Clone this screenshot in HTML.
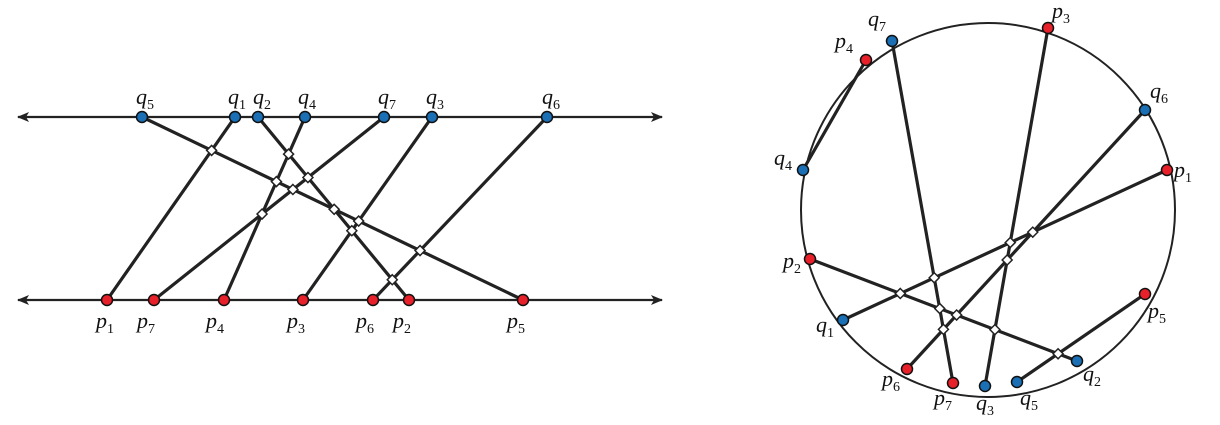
<!DOCTYPE html>
<html><head><meta charset="utf-8"><style>
html,body{margin:0;padding:0;background:#fff;}
svg text{font-family:"Liberation Serif",serif;font-style:italic;font-size:22px;fill:#111;}
svg text tspan.s{font-size:14px;font-style:normal;}
</style></head><body>
<svg id="s" width="1220" height="420" viewBox="0 0 1220 420" xmlns="http://www.w3.org/2000/svg">
<defs>
<marker id="ar" markerWidth="12" markerHeight="10" refX="11" refY="5" orient="auto" markerUnits="userSpaceOnUse">
<path d="M0,0 L12,5 L0,10 L3,5 Z" fill="#222"/></marker>
</defs>
<g stroke="#222" stroke-width="2.2">
<line x1="330" y1="117" x2="662" y2="117" marker-end="url(#ar)"/>
<line x1="330" y1="117" x2="18" y2="117" marker-end="url(#ar)"/>
<line x1="330" y1="300" x2="662" y2="300" marker-end="url(#ar)"/>
<line x1="330" y1="300" x2="18" y2="300" marker-end="url(#ar)"/>
</g>
<circle cx="988" cy="210" r="187" fill="none" stroke="#222" stroke-width="2"/>
<g id="segs" stroke="#222" stroke-width="3.2"></g>
<g id="dia" fill="#fff" stroke="#222" stroke-width="1.5"></g>
<g id="pts" stroke="#111" stroke-width="1.5"></g>
<g>
<text x="136" y="104">q<tspan class="s" dy="5">5</tspan></text>
<text x="228" y="104">q<tspan class="s" dy="5">1</tspan></text>
<text x="253" y="104">q<tspan class="s" dy="5">2</tspan></text>
<text x="298" y="104">q<tspan class="s" dy="5">4</tspan></text>
<text x="378" y="104">q<tspan class="s" dy="5">7</tspan></text>
<text x="426" y="104">q<tspan class="s" dy="5">3</tspan></text>
<text x="542" y="104">q<tspan class="s" dy="5">6</tspan></text>
<text x="96" y="328">p<tspan class="s" dy="5">1</tspan></text>
<text x="137" y="328">p<tspan class="s" dy="5">7</tspan></text>
<text x="206" y="328">p<tspan class="s" dy="5">4</tspan></text>
<text x="287" y="328">p<tspan class="s" dy="5">3</tspan></text>
<text x="356" y="328">p<tspan class="s" dy="5">6</tspan></text>
<text x="393" y="328">p<tspan class="s" dy="5">2</tspan></text>
<text x="507" y="328">p<tspan class="s" dy="5">5</tspan></text>
<text x="868" y="26">q<tspan class="s" dy="5">7</tspan></text>
<text x="835" y="48">p<tspan class="s" dy="5">4</tspan></text>
<text x="1052" y="18">p<tspan class="s" dy="5">3</tspan></text>
<text x="1150" y="98">q<tspan class="s" dy="5">6</tspan></text>
<text x="774" y="165">q<tspan class="s" dy="5">4</tspan></text>
<text x="1174" y="177">p<tspan class="s" dy="5">1</tspan></text>
<text x="783" y="268">p<tspan class="s" dy="5">2</tspan></text>
<text x="1148" y="318">p<tspan class="s" dy="5">5</tspan></text>
<text x="816" y="332">q<tspan class="s" dy="5">1</tspan></text>
<text x="1083" y="381">q<tspan class="s" dy="5">2</tspan></text>
<text x="882" y="386">p<tspan class="s" dy="5">6</tspan></text>
<text x="934" y="405">p<tspan class="s" dy="5">7</tspan></text>
<text x="976" y="410">q<tspan class="s" dy="5">3</tspan></text>
<text x="1020" y="405">q<tspan class="s" dy="5">5</tspan></text>
</g>
</svg>
<script>
var NS="http://www.w3.org/2000/svg";
function el(g,t,a){var e=document.createElementNS(NS,t);for(var k in a)e.setAttribute(k,a[k]);document.getElementById(g).appendChild(e);}
var L=[[[107,300],[235,117]],[[154,300],[384,117]],[[224,300],[305,117]],[[303,300],[432,117]],[[373,300],[547,117]],[[409,300],[258,117]],[[523,300],[142,117]]];
var R=[[[866,60],[803,170]],[[953,383],[892,41]],[[1048,28],[985,386]],[[907,369],[1145,110]],[[1167,170],[843,320]],[[810,259],[1077,361]],[[1145,294],[1017,382]]];
function draw(S){
S.forEach(function(s){el("segs","line",{x1:s[0][0],y1:s[0][1],x2:s[1][0],y2:s[1][1]});});
for(var i=0;i<S.length;i++)for(var j=i+1;j<S.length;j++){
var a=S[i][0],b=S[i][1],c=S[j][0],d=S[j][1];
var r=[b[0]-a[0],b[1]-a[1]],s=[d[0]-c[0],d[1]-c[1]];
var den=r[0]*s[1]-r[1]*s[0];if(Math.abs(den)<1e-9)continue;
var t=((c[0]-a[0])*s[1]-(c[1]-a[1])*s[0])/den,u=((c[0]-a[0])*r[1]-(c[1]-a[1])*r[0])/den;
if(t>0.01&&t<0.99&&u>0.01&&u<0.99){var x=a[0]+t*r[0],y=a[1]+t*r[1];
el("dia","path",{d:"M"+x+","+(y-5)+" L"+(x+5)+","+y+" L"+x+","+(y+5)+" L"+(x-5)+","+y+" Z"});}
}
S.forEach(function(s){
var p=s[0],q=s[1];
el("pts","circle",{cx:p[0],cy:p[1],r:5.5,fill:"#e8202a"});
el("pts","circle",{cx:q[0],cy:q[1],r:5.5,fill:"#1a6fb5"});
});
}
draw(L);draw(R);
</script>
</body></html>
